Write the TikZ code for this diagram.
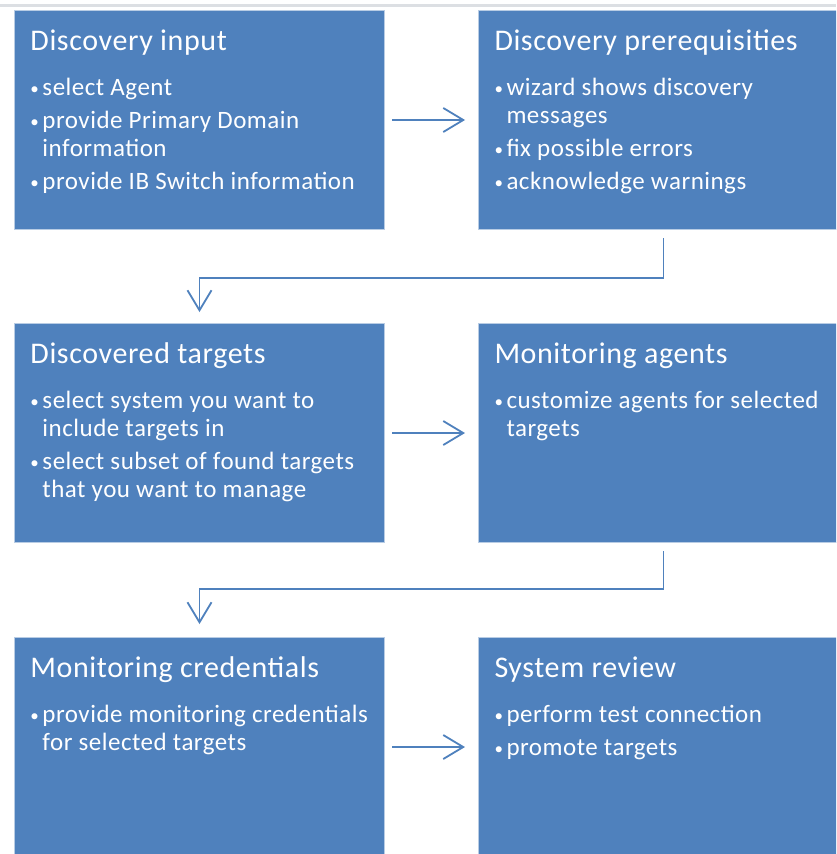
\documentclass[tikz,border=0pt]{standalone}
\usepackage{fontspec}
\setmainfont{Carlito}[LetterSpace=2]
\usepackage{xcolor}
\usepackage{tikz}
\usetikzlibrary{arrows.meta}
\definecolor{cardBlue}{HTML}{4F81BD}
\definecolor{cardEdge}{HTML}{B8CCE4}
\definecolor{topRule}{HTML}{DCDFE3}

% one box of the wizard: title and bullet points, top aligned
\newcommand{\cardtext}[2]{\parbox[t][219pt][t]{338pt}{%
    \fontsize{25}{28}\selectfont
    {\fontsize{30}{28}\selectfont\rule{0pt}{40pt}#1\par}\vspace{12pt}#2}}
\newcommand{\point}[1]{\par\vspace{5pt}\hangindent=12pt\hangafter=1\noindent
    \makebox[12pt][l]{\fontsize{17}{28}\selectfont\raisebox{1.5pt}{\textbullet}}#1\par}

\tikzset{
    card/.style={draw=cardEdge, line width=1pt, fill=cardBlue, text=white,
        anchor=north west, inner xsep=16pt, inner ysep=0pt,
        minimum width=370pt, minimum height=219pt, align=left},
    flow/.style={draw=cardBlue, line width=1.8pt,
        -{Straight Barb[length=20pt, width=24pt, line width=1.8pt]}},
}

\begin{document}
\begin{tikzpicture}[x=1pt, y=-1pt]

    \useasboundingbox (0,0) rectangle (836,854);
    \clip (0,0) rectangle (836,854);
    \fill[white] (0,0) rectangle (836,854);

    \draw[topRule, line width=3pt] (0,5.5) -- (836,5.5);

    % first row
    \node[card] (input) at (14,10) {\cardtext{Discovery input}{%
        \point{\mbox{select Agent}}
        \point{\mbox{provide Primary Domain}\\\mbox{information}}
        \point{\mbox{provide IB Switch information}}}};
    \node[card] (prereq) at (478,10) {\cardtext{Discovery prerequisities}{%
        \point{\mbox{wizard shows discovery}\\\mbox{messages}}
        \point{\mbox{fix possible errors}}
        \point{\mbox{acknowledge warnings}}}};

    % second row
    \node[card] (found) at (14,323) {\cardtext{Discovered targets}{%
        \point{\mbox{select system you want to}\\\mbox{include targets in}}
        \point{\mbox{select subset of found targets}\\\mbox{that you want to manage}}}};
    \node[card] (agents) at (478,323) {\cardtext{Monitoring agents}{%
        \point{\mbox{customize agents for selected}\\\mbox{targets}}}};

    % third row
    \node[card] (creds) at (14,637) {\cardtext{Monitoring credentials}{%
        \point{\mbox{provide monitoring credentials}\\\mbox{for selected targets}}}};
    \node[card] (review) at (478,637) {\cardtext{System review}{%
        \point{\mbox{perform test connection}}
        \point{\mbox{promote targets}}}};

    % connectors
    \draw[flow] ([xshift=7pt]input.east) -- ([xshift=-13pt]prereq.west);
    \draw[flow] ([xshift=7pt]found.east) -- ([xshift=-13pt]agents.west);
    \draw[flow] ([xshift=7pt]creds.east) -- ([xshift=-13pt]review.west);
    \draw[flow] ([yshift=-8pt]prereq.south) -- ++(0,40)
        -| ([yshift=11pt]found.north);
    \draw[flow] ([yshift=-8pt]agents.south) -- ++(0,38)
        -| ([yshift=13pt]creds.north);
\end{tikzpicture}
\end{document}
